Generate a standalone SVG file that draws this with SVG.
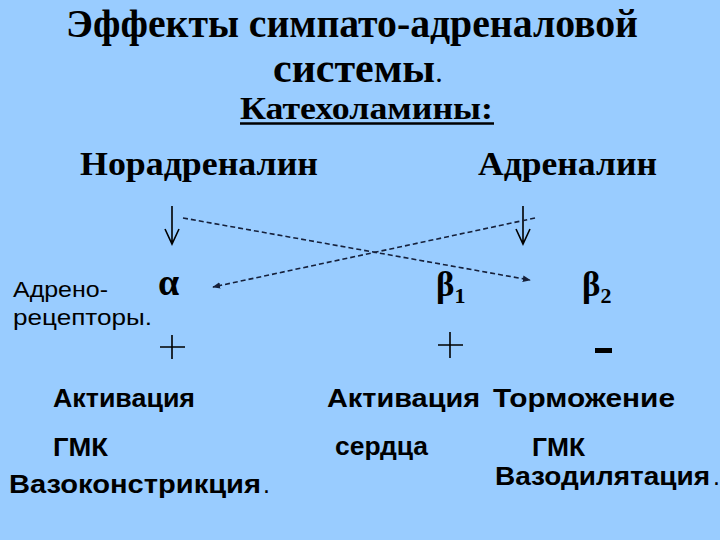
<svg xmlns="http://www.w3.org/2000/svg" width="720" height="540" viewBox="0 0 720 540">
<defs>
<style>
.ser{font-family:"Liberation Serif","Times New Roman",serif;font-weight:bold;fill:#000}
.san{font-family:"Liberation Sans",Arial,sans-serif;font-weight:bold;fill:#000}
.reg{font-family:"Liberation Sans",Arial,sans-serif;fill:#000}
.sym{font-family:"Liberation Serif","DejaVu Serif",serif;font-weight:bold;fill:#000}
.dash{stroke:#16203a;stroke-width:1.6;stroke-dasharray:5 3;fill:none}
.solid{stroke:#000;stroke-width:1.6;fill:none}
</style>
<marker id="ah" viewBox="0 0 10 10" refX="9" refY="5" markerWidth="5" markerHeight="5" orient="auto">
<path d="M0,1 L10,5 L0,9 Z" fill="#16203a"/>
</marker>
</defs>
<rect width="720" height="540" fill="#99ccff"/>
<g id="title">
<text class="ser" x="66" y="37" font-size="40" textLength="572" lengthAdjust="spacingAndGlyphs">Эффекты симпато-адреналовой</text>
<text class="ser" x="273" y="82" font-size="42">системы<tspan font-size="30" font-weight="normal">.</tspan></text>
</g>
<g id="catecholamines">
<text class="ser" x="240" y="119" font-size="32" textLength="253" lengthAdjust="spacingAndGlyphs">Катехоламины:</text>
<line x1="240" y1="123.5" x2="494" y2="123.5" stroke="#000" stroke-width="2.5"/>
</g>
<g id="noradrenaline">
<text class="ser" x="80" y="175" font-size="34" textLength="238" lengthAdjust="spacingAndGlyphs">Норадреналин</text>
</g>
<g id="adrenaline">
<text class="ser" x="478" y="175" font-size="34" textLength="179" lengthAdjust="spacingAndGlyphs">Адреналин</text>
</g>
<g id="receptors-label">
<text class="reg" x="13" y="297" font-size="22" textLength="95" lengthAdjust="spacingAndGlyphs">Адрено-</text>
<text class="reg" x="13" y="325" font-size="22" textLength="139" lengthAdjust="spacingAndGlyphs">рецепторы.</text>
</g>
<g id="alpha">
<text class="sym" x="158" y="295" font-size="38">α</text>
<path class="solid" d="M160,347 H185 M172,335 V359" stroke-width="1.5"/>
</g>
<g id="beta1">
<text class="sym" x="436" y="296" font-size="35">β<tspan font-size="22" dy="7">1</tspan></text>
<path class="solid" d="M438,345 H463 M450,332 V358" stroke-width="1.5"/>
</g>
<g id="beta2">
<text class="sym" x="582" y="296" font-size="35">β<tspan font-size="22" dy="7">2</tspan></text>
<line x1="595" y1="350.5" x2="612" y2="350.5" stroke="#000" stroke-width="5"/>
</g>
<g id="connectors">
<path class="solid" d="M172,206 V244 M165,229 L172,244 L179,229"/>
<path class="solid" d="M523,206 V244 M516,229 L523,244 L530,229"/>
<line class="dash" x1="183" y1="218" x2="530" y2="280" marker-end="url(#ah)"/>
<line class="dash" x1="535" y1="218" x2="213" y2="287" marker-end="url(#ah)"/>
</g>
<g id="effects-left">
<text class="san" x="53" y="407" font-size="25" textLength="142" lengthAdjust="spacingAndGlyphs">Активация</text>
<text class="san" x="53" y="456" font-size="25" textLength="55" lengthAdjust="spacingAndGlyphs">ГМК</text>
<text class="san" x="9" y="493" font-size="25" textLength="252" lengthAdjust="spacingAndGlyphs">Вазоконстрикция</text>
<text class="reg" x="263" y="493" font-size="25">.</text>
</g>
<g id="effects-beta1">
<text class="san" x="327" y="407" font-size="25" textLength="153" lengthAdjust="spacingAndGlyphs">Активация</text>
<text class="san" x="335" y="455" font-size="25" textLength="93" lengthAdjust="spacingAndGlyphs">сердца</text>
</g>
<g id="effects-beta2">
<text class="san" x="493" y="407" font-size="25" textLength="182" lengthAdjust="spacingAndGlyphs">Торможение</text>
<text class="san" x="532" y="456" font-size="25" textLength="53" lengthAdjust="spacingAndGlyphs">ГМК</text>
<text class="san" x="495" y="485" font-size="25" textLength="215" lengthAdjust="spacingAndGlyphs">Вазодилятация</text>
<text class="reg" x="713" y="485" font-size="25">.</text>
</g>
</svg>
